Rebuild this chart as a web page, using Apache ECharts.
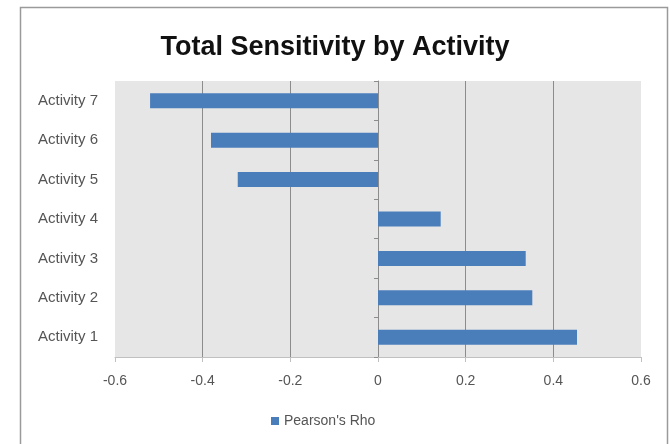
<!DOCTYPE html>
<html><head><meta charset="utf-8">
<script src="https://cdn.jsdelivr.net/npm/echarts@6/dist/echarts.min.js"></script>
<style>html,body{margin:0;padding:0;background:#fff}#c{width:670px;height:444px}</style>
</head><body><div id="c"></div>
<script>
var categories = ['Activity 1','Activity 2','Activity 3','Activity 4','Activity 5','Activity 6','Activity 7'];
var pearsonsRho = [0.454, 0.352, 0.337, 0.143, -0.320, -0.381, -0.520];
var seriesName = "Pearson's Rho";
var titleText = 'Total Sensitivity by Activity';

var chart = echarts.init(document.getElementById('c'));
var font = 'Liberation Sans, Arial, sans-serif';
chart.setOption({
  animation: false,
  backgroundColor: '#ffffff',
  title: {
    text: titleText, left: 'center', top: 29,
    textStyle: {fontFamily: font, fontSize: 27, fontWeight: 'bold', color: '#111'}
  },
  graphic: [{
    type: 'rect', silent: true,
    shape: {x: 20.5, y: 7.5, width: 647, height: 460},
    style: {fill: 'none', stroke: '#9a9a9a', lineWidth: 1.5}
  }],
  legend: {
    data: [seriesName], bottom: 11, left: 266, icon: 'rect',
    itemWidth: 8, itemHeight: 8, itemGap: 4,
    textStyle: {fontFamily: font, fontSize: 14, color: '#555'}
  },
  grid: {left: 115, right: 29, top: 81, bottom: 87, show: true, backgroundColor: '#e6e6e6', borderWidth: 0},
  xAxis: {
    type: 'value', min: -0.6, max: 0.6, interval: 0.2,
    axisLine: {show: true, lineStyle: {color: '#c0c0c0'}},
    axisTick: {show: true, length: 5, lineStyle: {color: '#c0c0c0'}},
    axisLabel: {margin: 17, fontFamily: font, fontSize: 14, color: '#555',
      formatter: function (v) { return String(Math.round(v * 10) / 10); }},
    splitLine: {show: true, showMinLine: false, showMaxLine: false, lineStyle: {color: '#8c8c8c', width: 1}}
  },
  yAxis: [{
    type: 'category', data: categories,
    axisLine: {show: true, onZero: true, lineStyle: {color: '#8c8c8c'}},
    axisTick: {show: true, length: 4, lineStyle: {color: '#8c8c8c'}},
    axisLabel: {show: false}
  }, {
    type: 'category', data: categories, position: 'left',
    axisLine: {show: false}, axisTick: {show: false},
    axisLabel: {margin: 17, fontFamily: font, fontSize: 15, color: '#555'}
  }],
  series: [{
    name: seriesName, type: 'bar', data: pearsonsRho, barWidth: 15, yAxisIndex: 0,
    itemStyle: {color: '#4a7ebb'}
  }]
});
</script></body></html>
